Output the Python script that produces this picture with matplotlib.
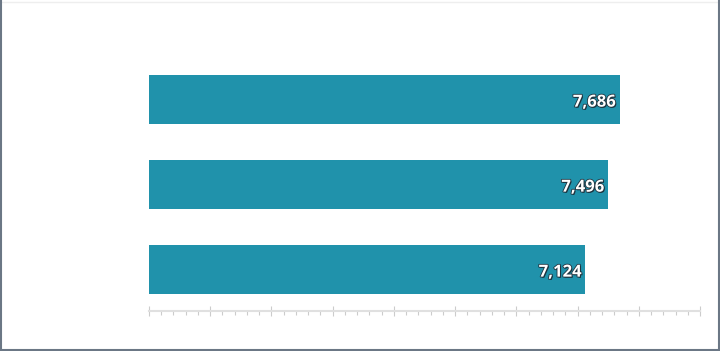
import matplotlib.pyplot as plt
import matplotlib.patheffects as pe
from matplotlib.lines import Line2D
from matplotlib.ticker import MultipleLocator

# Values (top to bottom)
categories = ['A', 'B', 'C']
values = [7686, 7496, 7124]

bar_color = '#2092ab'

fig = plt.figure(figsize=(7.2, 3.51), dpi=100)
ax = fig.add_axes([149 / 720, 40 / 351, 551 / 720, 296.5 / 351])

pos = list(range(len(values)))
ax.barh(pos, values, height=49 / 85, color=bar_color)

for y, v in zip(pos, values):
    ax.text(v - 60, y + 0.025, f'{v:,}', ha='right', va='center', color='white',
            fontsize=12, fontweight='bold', family='Open Sans',
            path_effects=[pe.withSimplePatchShadow(offset=(0.8, -0.8), shadow_rgbFace='#1a2a33', alpha=0.9),
                          pe.withStroke(linewidth=1.2, foreground='#1f3440')])

ax.set_xlim(0, 9000)
ax.set_ylim(2.488, -1.0)
ax.xaxis.set_major_locator(MultipleLocator(1000))
ax.xaxis.set_minor_locator(MultipleLocator(200))
ax.tick_params(axis='x', which='major', direction='inout', length=7, width=0.8, color='#cccccc', labelbottom=False)
ax.tick_params(axis='x', which='minor', direction='out', length=3, width=0.8, color='#cccccc')
ax.tick_params(axis='y', left=False, labelleft=False)
for side in ['top', 'right', 'left']:
    ax.spines[side].set_visible(False)
ax.spines['bottom'].set_color('#e0e0e0')
ax.spines['bottom'].set_linewidth(1.5)

# frame round the picture
fig.add_artist(Line2D([0.5 / 720, 719.5 / 720], [349.5 / 351, 349.5 / 351], transform=fig.transFigure, color='#eeeeee', lw=1))
fig.add_artist(Line2D([1 / 720, 1 / 720], [0, 1], transform=fig.transFigure, color='#6b7785', lw=1.5))
fig.add_artist(Line2D([719 / 720, 719 / 720], [0, 1], transform=fig.transFigure, color='#6b7785', lw=1.5))
fig.add_artist(Line2D([0, 1], [1 / 351, 1 / 351], transform=fig.transFigure, color='#6b7785', lw=1.5))

fig.savefig('out.png', dpi=100)
